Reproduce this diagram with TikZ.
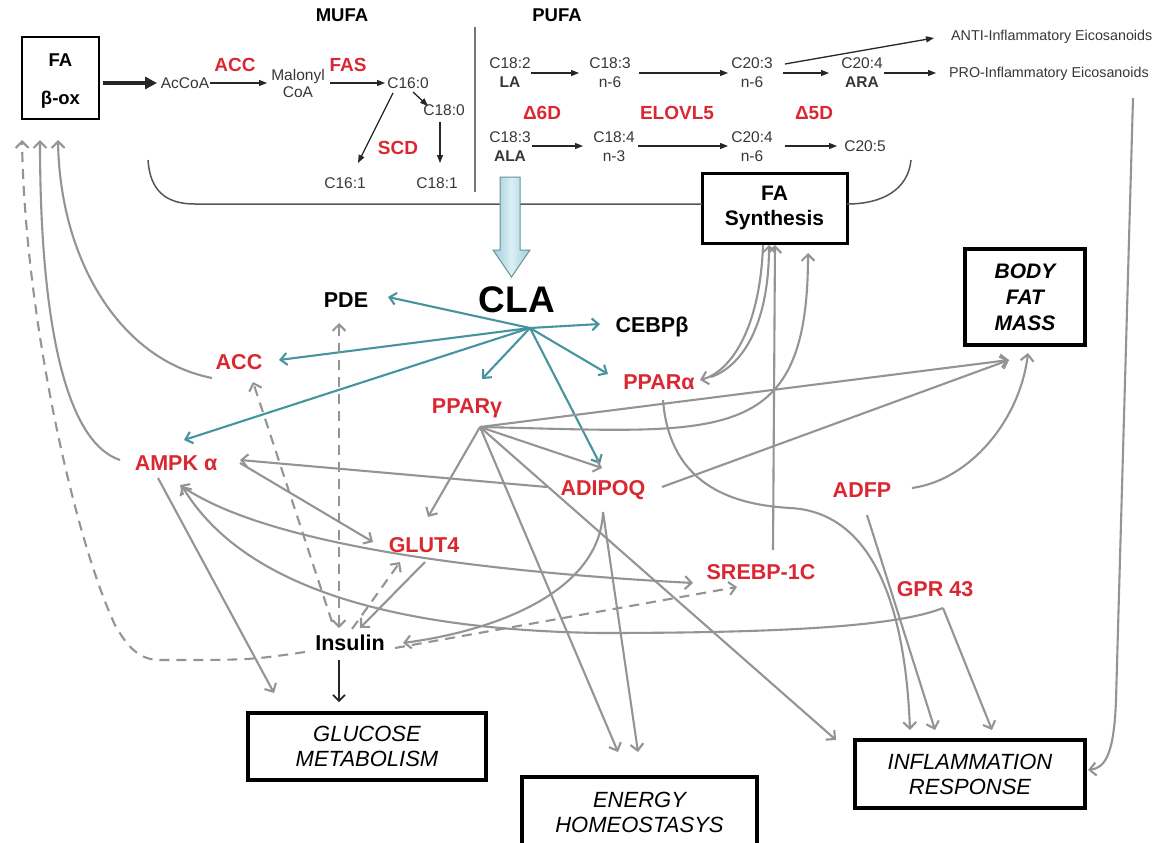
\documentclass[tikz,border=0pt]{standalone}
\usepackage{fontspec}
\setmainfont{Liberation Sans}
\usetikzlibrary{arrows.meta,calc}
\definecolor{cred}{RGB}{218,40,50}
\definecolor{cteal}{RGB}{70,148,158}
\definecolor{cgray}{RGB}{148,148,148}
\definecolor{ctxt}{RGB}{55,55,55}
\definecolor{cline}{RGB}{85,85,85}
\definecolor{cbla}{RGB}{218,240,246}
\definecolor{cblb}{RGB}{160,204,214}
\definecolor{cblo}{RGB}{105,145,155}
\tikzset{
  sm/.style={font=\fontsize{15.5}{19}\selectfont, text=ctxt, inner sep=0pt, align=center},
  rtop/.style={font=\bfseries\fontsize{19}{22}\selectfont, text=cred, inner sep=0pt},
  hdr/.style={font=\bfseries\fontsize{18.5}{22}\selectfont, inner sep=0pt},
  rlab/.style={font=\bfseries\fontsize{21.5}{25}\selectfont, text=cred, inner sep=0pt},
  klab/.style={font=\bfseries\fontsize{21.5}{25}\selectfont, text=black, inner sep=0pt},
  outbox/.style={draw, line width=3.5pt, font=\itshape\fontsize{22}{25}\selectfont, align=center, inner sep=0pt},
  karr/.style={draw=black!85, line width=1.3pt, -{Triangle[length=8pt,width=6pt]}},
  garr/.style={draw=cgray, line width=2.1pt, -{Straight Barb[length=6.5pt,width=13pt]}},
  gboth/.style={draw=cgray, line width=2.1pt, {Straight Barb[length=6.5pt,width=13pt]}-{Straight Barb[length=6.5pt,width=13pt]}},
  gdash/.style={dash pattern=on 10pt off 7pt},
  tarr/.style={draw=cteal, line width=2.1pt, -{Straight Barb[length=6.5pt,width=12pt]}}
}
\begin{document}
\begin{tikzpicture}[x=1pt,y=-1pt]
\useasboundingbox (0,0) rectangle (1154,843);
\fill[white] (0,0) rectangle (1154,843);

% ---------- headers ----------
\node[hdr] (mufa) at (342,15) {MUFA};
\node[hdr] (pufa) at (557,15) {PUFA};
\draw[line width=2pt, color=cgray!80!black] (475,27) -- (475,192);

% ---------- FA beta-ox ----------
\node[draw, line width=2.5pt, minimum width=77pt, minimum height=82pt, inner sep=0pt] (fabox) at (60.5,78) {};
\node[font=\bfseries\fontsize{18.5}{22}\selectfont, inner sep=0pt] (faT) at (60.5,60) {FA};
\node[font=\bfseries\fontsize{18.5}{22}\selectfont, inner sep=0pt] (boxT) at (60.5,100) {β-ox};

% ---------- MUFA pathway ----------
\node[sm] (acoa) at (185,83) {AcCoA};
\node[rtop] (accT) at (235,65) {ACC};
\node[sm, font=\fontsize{15.5}{17}\selectfont] (malonyl) at (298,83.5) {Malonyl\\CoA};
\node[rtop] (fasT) at (348,65) {FAS};
\node[sm] (c160) at (408,83) {C16:0};
\node[sm] (c180) at (444,110) {C18:0};
\node[sm] (c161) at (345,183) {C16:1};
\node[sm] (c181) at (437,183) {C18:1};
\node[rtop] (scdT) at (398,148) {SCD};

\draw[karr, line width=3.5pt, -{Triangle[length=12pt,width=12pt]}] ($(fabox)+(42.5,5)$) -- ($(acoa)+(-28,0)$);
\draw[karr] ($(acoa)+(25,0)$) -- ($(malonyl)+(-31,-0.5)$);
\draw[karr] ($(malonyl)+(32,-0.5)$) -- ($(c160)+(-23,0)$);
\draw[karr] ($(c160)+(5,9)$) -- ($(c180)+(-16,-4)$);
\draw[karr] ($(c160)+(-15,10)$) -- ($(c161)+(13,-20)$);
\draw[karr] ($(c180)+(-4,12)$) -- ($(c181)+(3,-20)$);

% ---------- PUFA pathway ----------
\node[sm] (la) at (510,72.5) {C18:2\\\textbf{LA}};
\node[sm] (c183) at (610,72.5) {C18:3\\n-6};
\node[sm] (c203) at (752,72.5) {C20:3\\n-6};
\node[sm] (ara) at (862,72.5) {C20:4\\\textbf{ARA}};
\node[sm, font=\fontsize{14.3}{17}\selectfont, anchor=west] (pro) at (949,74) {PRO-Inflammatory Eicosanoids};
\node[sm, font=\fontsize{14.3}{17}\selectfont, anchor=west] (anti) at (951,37) {ANTI-Inflammatory Eicosanoids};
\node[sm] (ala) at (510,146.5) {C18:3\\\textbf{ALA}};
\node[sm] (c184) at (614,146.5) {C18:4\\n-3};
\node[sm] (c204) at (752,146.5) {C20:4\\n-6};
\node[sm] (c205) at (865,146) {C20:5};
\node[rtop] (d6d) at (542,113) {Δ6D};
\node[rtop] (elovl) at (677,113) {ELOVL5};
\node[rtop] (d5d) at (814,113) {Δ5D};

\draw[karr] ($(la)+(21,0.5)$) -- ($(c183)+(-31,0.5)$);
\draw[karr] ($(c183)+(29,0.5)$) -- ($(c203)+(-24,0.5)$);
\draw[karr] ($(c203)+(31,0.5)$) -- ($(ara)+(-33,0.5)$);
\draw[karr] ($(ara)+(22,0.5)$) -- ($(pro.west)+(-13,-1)$);
\draw[karr] ($(c203)+(33,-8.5)$) -- ($(anti.west)+(-17,1)$);
\draw[karr] ($(ala)+(22,-0.5)$) -- ($(c184)+(-31,-0.5)$);
\draw[karr] ($(c184)+(24,-0.5)$) -- ($(c204)+(-24,-0.5)$);
\draw[karr] ($(c204)+(33,-0.5)$) -- ($(c205)+(-28,0)$);

% ---------- FA synthesis box and bracket ----------
\node[draw, line width=3pt, minimum width=145pt, minimum height=70pt, inner sep=0pt, align=center,
      font=\bfseries\fontsize{21}{25}\selectfont] (fasyn) at (774.5,208) {FA\\Synthesis};
\draw[cline, line width=1.5pt] (148,160) .. controls (150,190) and (165,204) .. (195,204) -- ($(fasyn)+(-72.5,-4)$);
\draw[cline, line width=1.5pt] ($(fasyn)+(72.5,-4)$) .. controls (882,204) and (908,190) .. (911,160);

% ---------- big arrow ----------
\shade[draw=cblo, line width=1pt, left color=cblb, right color=cblb, middle color=cbla]
  (500,177) -- (520,177) -- (520,250) -- (530,250) -- (511.5,277) -- (493,250) -- (500,250) -- cycle;

% ---------- central nodes ----------
\node[font=\bfseries\fontsize{37}{40}\selectfont, inner sep=0pt] (cla) at (517,300) {CLA};
\coordinate (hub) at (530,328);
\node[klab] (pde) at (346,300) {PDE};
\node[klab] (cebp) at (652,327) {CEBPβ};
\node[rlab] (acc) at (239,362) {ACC};
\node[rlab] (ppa) at (659,382) {PPARα};
\node[rlab] (ppg) at (467,408) {PPARγ};
\node[rlab] (ampk) at (176,463) {AMPK α};
\node[rlab] (adq) at (603,490) {ADIPOQ};
\node[rlab] (adfp) at (862,490) {ADFP};
\node[rlab] (glut) at (424,545) {GLUT4};
\node[rlab] (srebp) at (761,572) {SREBP-1C};
\node[rlab] (gpr) at (935,589) {GPR 43};
\node[klab] (ins) at (350,643) {Insulin};
\coordinate (pgo) at ($(ppg)+(13,19)$);

% ---------- outcome boxes ----------
\node[outbox, line width=4pt, font=\bfseries\itshape\fontsize{21}{26}\selectfont, minimum width=120pt, minimum height=96pt] (bfm) at (1025,297) {BODY\\FAT\\MASS};
\node[outbox, minimum width=238pt, minimum height=67pt] (glu) at (367,746.5) {GLUCOSE\\METABOLISM};
\node[outbox, minimum width=230pt, minimum height=68pt] (inf) at (970,774) {INFLAMMATION\\RESPONSE};
\node[outbox, minimum width=235pt, minimum height=70pt, text depth=0pt] (ene) at (639.5,812) {ENERGY\\HOMEOSTASYS};

% ---------- teal arrows from CLA ----------
\draw[tarr] (hub) -- ($(pde)+(42,-3)$);
\draw[tarr] (hub) -- ($(acc)+(40,-2)$);
\draw[tarr] (hub) -- ($(ampk)+(8,-23)$);
\draw[tarr] (hub) -- ($(cebp)+(-52,-3)$);
\draw[tarr] (hub) -- ($(ppa)+(-51,-8)$);
\draw[tarr] (hub) -- ($(ppg)+(15,-29)$);
\draw[tarr] (hub) -- ($(adq)+(-3,-26)$);

% ---------- gray connectors ----------
% to FA beta-ox
\draw[garr] ($(acc)+(-27,16)$) .. controls (120,360) and (60,260) .. ($(fabox)+(-2.5,62)$);
\draw[garr] ($(ampk)+(-56,-3)$) .. controls (60,440) and (40,300) .. ($(fabox)+(-20.5,62)$);
\draw[garr, gdash] ($(ins)+(-45,9)$) .. controls (250,660) .. (160,660)
   .. controls (140,660) and (128,648) .. (115,625)
   .. controls (75,540) and (25,320) .. ($(fabox)+(-38.5,62)$);
% AMPK
\draw[garr] ($(adq)+(-56,-3)$) -- ($(ampk)+(64,-3)$);
\draw[garr] ($(ampk)+(64,0)$) -- ($(glut)+(-51,-3)$);
\draw[gboth] ($(ampk)+(4,22)$) .. controls (260,540) and (450,570) .. ($(srebp)+(-68,11)$);
\draw[garr] ($(gpr)+(8,19)$) .. controls (900,625) and (800,633) .. (600,633)
   .. controls (400,630) and (245,590) .. ($(ampk)+(6,23)$);
\draw[garr] ($(gpr)+(8,19)$) -- ($(inf)+(22,-44)$);
\draw[garr] ($(ampk)+(-18,15)$) -- ($(glu)+(-93,-53.5)$);
% PPARgamma
\draw[garr] (pgo) -- ($(glut)+(4,-28)$);
\draw[garr] (pgo) -- ($(adq)+(-1,-22)$);
\draw[garr] (pgo) -- ($(ene)+(-21.5,-60)$);
\draw[garr] (pgo) -- ($(inf)+(-134,-34)$);
\draw[garr] (pgo) -- ($(bfm)+(-16,63)$);
\draw[garr] (pgo) .. controls (720,432) and (808,450) .. ($(fasyn)+(33.5,45)$);
% PPARalpha
\draw[garr] ($(fasyn)+(-11.5,37)$) .. controls (760,330) and (730,372) .. ($(ppa)+(41,-2)$);
\draw[garr] ($(ppa)+(52,-5)$) .. controls (745,365) and (769,320) .. ($(fasyn)+(-5.5,37)$);
\draw[garr] ($(ppa)+(4,18)$) .. controls (670,490) and (740,505) .. (790,508)
   .. controls (870,512) and (905,600) .. ($(inf)+(-60,-44)$);
% SREBP
\draw[garr] ($(srebp)+(12,-22)$) -- ($(fasyn)+(0.5,37)$);
% ADIPOQ
\draw[garr] ($(adq)+(59,-3)$) -- ($(bfm)+(-16,63)$);
\draw[garr] ($(adq)+(0,22)$) .. controls (600,590) and (500,630) .. ($(ins)+(53,0)$);
\draw[garr] ($(adq)+(0,22)$) -- ($(ene)+(-1.5,-60)$);
% ADFP
\draw[garr] ($(adfp)+(50,-2)$) .. controls (970,480) and (1020,420) .. ($(bfm)+(3,56)$);
\draw[garr] ($(adfp)+(5,25)$) -- ($(inf)+(-35,-44)$);
% GLUT4 / Insulin
\draw[garr] ($(glut)+(1,17)$) -- ($(ins)+(10,-15)$);
\draw[garr, gdash] ($(ins)+(2,-14)$) -- ($(glut)+(-24,17)$);
\draw[gboth, gdash] ($(ins)+(-11,-15)$) -- ($(pde)+(-7,23)$);
\draw[garr, gdash] ($(ins)+(-18,-21)$) -- ($(acc)+(14,20)$);
\draw[garr, gdash] ($(ins)+(45,5)$) -- ($(srebp)+(-24,15)$);
\draw[karr, line width=1.6pt, -{Straight Barb[length=6pt,width=12pt]}] ($(ins)+(-11,17)$) -- ($(glu)+(-28,-44.5)$);
% PRO eicosanoids to inflammation
\draw[garr] ($(pro.west)+(184,24)$) -- (1116,700) .. controls (1114,755) and (1105,768) .. ($(inf)+(118,-4)$);
\end{tikzpicture}
\end{document}
